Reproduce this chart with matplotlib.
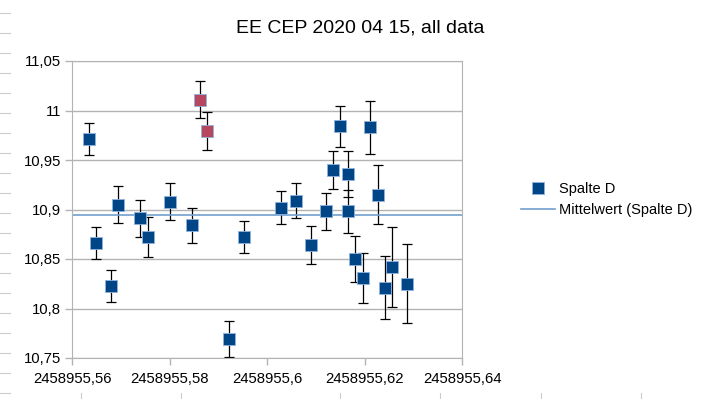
import numpy as np
import matplotlib
matplotlib.use('Agg')
import matplotlib.pyplot as plt
from matplotlib.lines import Line2D
from matplotlib.ticker import FuncFormatter, MultipleLocator

plt.rcParams['font.family'] = ['Liberation Sans', 'DejaVu Sans']

# Julian date of each observation and magnitude (Spalte D) with its error
jd = np.array([
    2458955.56349, 2458955.56492, 2458955.56794, 2458955.56950, 2458955.57400,
    2458955.57553, 2458955.58010, 2458955.58626, 2458955.58769, 2458955.58468,
    2458955.59227, 2458955.59528, 2458955.60287, 2458955.60595, 2458955.60897,
    2458955.61204, 2458955.61354, 2458955.61504, 2458955.61655, 2458955.61655,
    2458955.61811, 2458955.61969, 2458955.62119, 2458955.62271, 2458955.62421,
    2458955.62571, 2458955.62872,
])
mag = np.array([
    10.971, 10.866, 10.823, 10.905, 10.891,
    10.872, 10.908, 11.011, 10.979, 10.884,
    10.769, 10.872, 10.902, 10.909, 10.864,
    10.898, 10.940, 10.984, 10.936, 10.898,
    10.850, 10.831, 10.983, 10.915, 10.821,
    10.842, 10.825,
])
err = np.array([
    0.016, 0.016, 0.016, 0.019, 0.019,
    0.020, 0.019, 0.019, 0.019, 0.018,
    0.018, 0.016, 0.017, 0.018, 0.019,
    0.019, 0.019, 0.021, 0.023, 0.022,
    0.023, 0.025, 0.027, 0.030, 0.032,
    0.040, 0.040,
])
# points drawn in red in the original sheet
highlight = [7, 8]

blue = '#004586'
red = '#b5485f'
mean_color = '#729fcf'
grid_color = '#b3b3b3'

fig = plt.figure(figsize=(7.09, 3.99), dpi=100)
ax = fig.add_axes([72 / 709, 1 - 358 / 399, 390 / 709, 297 / 399])

ax.errorbar(jd, mag, yerr=err, fmt='none', ecolor='black', elinewidth=0.9,
            capsize=3.6, capthick=0.9, zorder=2)
normal = [i for i in range(len(jd)) if i not in highlight]
ax.plot(jd[normal], mag[normal], 's', ms=8, color=blue, mec='#8fb3dd', mew=0.6, zorder=3)
ax.plot(jd[highlight], mag[highlight], 's', ms=8, color=red, mec='#8fb3dd', mew=0.6, zorder=3)
ax.axhline(mag.mean(), color=mean_color, lw=1.2, zorder=2.5)

ax.set_xlim(2458955.56, 2458955.64)
ax.set_ylim(10.75, 11.05)
ax.xaxis.set_major_locator(MultipleLocator(0.02))
ax.yaxis.set_major_locator(MultipleLocator(0.05))


def comma(v, pos):
    return ('%.10g' % round(v, 2)).replace('.', ',')


ax.xaxis.set_major_formatter(FuncFormatter(comma))
ax.yaxis.set_major_formatter(FuncFormatter(comma))
ax.grid(axis='y', color=grid_color, lw=1)
ax.set_axisbelow(True)
for s in ax.spines.values():
    s.set_color(grid_color)
ax.tick_params(colors=grid_color, labelcolor='black', labelsize=10.7, length=5, width=1,
               direction='out')
ax.tick_params(axis='x', pad=5)
ax.tick_params(axis='y', pad=3)

fig.text(0.508, 0.93, 'EE CEP 2020 04 15, all data', ha='center', va='center', fontsize=14)

handles = [
    Line2D([], [], marker='s', ls='none', ms=8, color=blue, mec='#8fb3dd', mew=0.6),
    Line2D([], [], color=mean_color, lw=1.2),
]
fig.legend(handles, ['Spalte D', 'Mittelwert (Spalte D)'], loc='upper left',
           bbox_to_anchor=(508 / 709, 1 - 169 / 399), frameon=False, fontsize=10.5,
           handlelength=2.3, handletextpad=0.3, labelspacing=0.5)

# faint spreadsheet cell marks around the chart
for y in range(13, 399, 20):
    fig.add_artist(Line2D([0, 10 / 709], [1 - y / 399] * 2, color='#cccccc', lw=0.8))
for x in [81, 181, 340, 440, 541, 641]:
    fig.add_artist(Line2D([x / 709] * 2, [0, 6 / 399], color='#cccccc', lw=0.8))

fig.savefig('out.png', dpi=100)
